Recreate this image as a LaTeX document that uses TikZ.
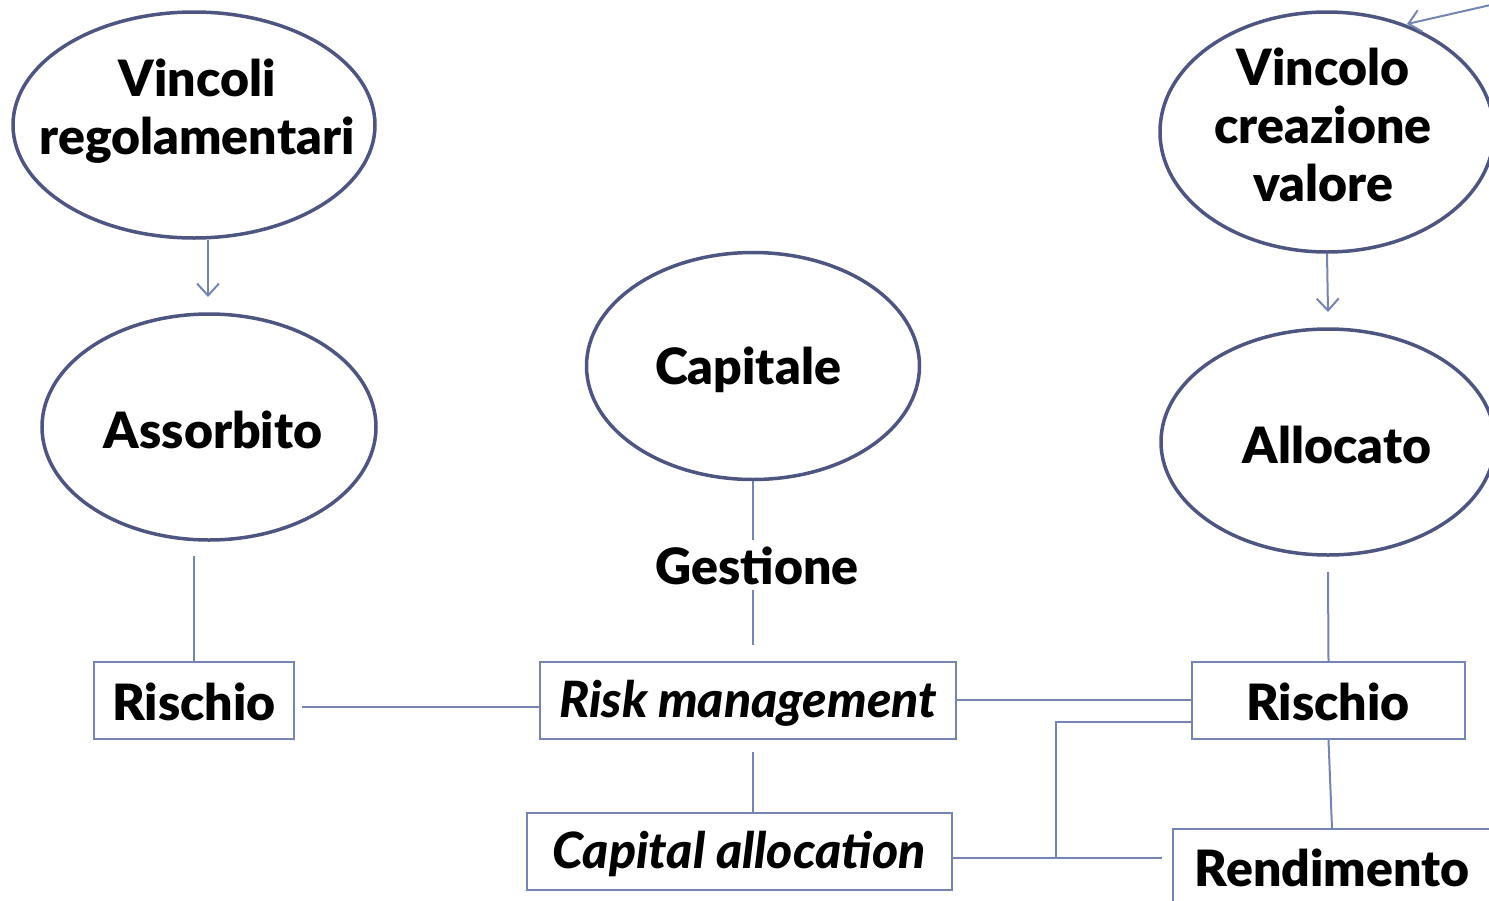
\documentclass[tikz,border=0pt]{standalone}
\usepackage{fontspec}
\setmainfont{Lato}[BoldFont={Lato Black},BoldItalicFont={Lato Black Italic}]
\usetikzlibrary{shapes.geometric,arrows.meta}
\definecolor{ellc}{RGB}{78,85,128}
\definecolor{linec}{RGB}{118,132,178}
\tikzset{
  ell/.style={ellipse, draw=ellc, line width=3.5pt, inner sep=0pt},
  box/.style={rectangle, draw=linec, line width=2pt, inner sep=0pt},
  lbl/.style={font=\fontsize{50}{58}\selectfont\bfseries, align=center, inner sep=0pt},
  ilbl/.style={lbl, font=\fontsize{50}{58}\selectfont\bfseries\itshape},
  conn/.style={draw=linec, line width=2pt},
  arr/.style={conn, -{Straight Barb[length=12pt,width=22pt,line width=2pt]}},
}
\begin{document}
\begin{tikzpicture}[x=1pt,y=-1pt]
\useasboundingbox (0,0) rectangle (1489,900);
\clip (0,0) rectangle (1489,900);
% ellipses
\node[ell, minimum width=362pt, minimum height=226pt] (e1) at (194,125) {};
\node[lbl] (t1) at (197,111) {Vincoli\\regolamentari};
\node[ell, minimum width=334pt, minimum height=226pt] (e2) at (209,427) {};
\node[lbl] (t2) at (213,430) {Assorbito};
\node[ell, minimum width=333pt, minimum height=227pt] (e3) at (753,366) {};
\node[lbl] (t3) at (748,370) {Capitale};
\node[ell, minimum width=334pt, minimum height=240pt] (e4) at (1327,132) {};
\node[lbl] (t4) at (1323,125) {Vincolo\\creazione\\valore};
\node[ell, minimum width=334pt, minimum height=226pt] (e5) at (1328,442) {};
\node[lbl] (t5) at (1337,445) {Allocato};
% boxes
\node[box, minimum width=200pt, minimum height=77pt] (b1) at (194,700.5) {};
\node[lbl] (t6) at (194,702) {Rischio};
\node[box, minimum width=416pt, minimum height=77pt] (b2) at (748,700.5) {};
\node[ilbl] (t7) at (748,703) {Risk management};
\node[box, minimum width=425pt, minimum height=77pt] (b3) at (739.5,851.5) {};
\node[ilbl] (t8) at (739,854) {Capital allocation};
\node[box, minimum width=273pt, minimum height=77pt] (b4) at (1328.5,700.5) {};
\node[lbl] (t9) at (1328,702) {Rischio};
\node[box, minimum width=340pt, minimum height=100pt, anchor=north west] (b5) at (1172,828) {};
\node[lbl] (t10) at (1332,868) {Rendimento};
\node[lbl] (g) at (757,566) {Gestione};
% connectors
\coordinate (a1e) at (208,297);
\draw[arr] (e1.south -| a1e) -- (a1e);
\draw[arr] (e4.south) -- (1328,312);
\coordinate (far) at (1495,4);
\draw[arr] (far) -- (1407,24);
\coordinate (c1) at (194,556);
\draw[conn] (c1) -- (b1.north);
\draw[conn] (b1.east) ++(7,6) coordinate (c2) -- (b2.west |- c2);
\coordinate (g1) at (753,540);
\coordinate (g2) at (753,590);
\coordinate (g3) at (753,645);
\draw[conn] (e3.south) -- (g1);
\draw[conn] (g2) -- (g3);
\coordinate (m1) at (753,752);
\draw[conn] (m1) -- (b3.north -| m1);
\draw[conn] (b2.east |- 0,700) -- (b4.west |- 0,700);
\draw[conn] (b4.west |- 0,722) -| (1056,858);
\coordinate (r1) at (1162,858);
\draw[conn] (b3.east |- r1) -- (r1);
\coordinate (r2) at (1328,572);
\draw[conn] (r2) -- (b4.north);
\coordinate (r3) at (1332,828);
\draw[conn] (b4.south) -- (r3);
\end{tikzpicture}
\end{document}
